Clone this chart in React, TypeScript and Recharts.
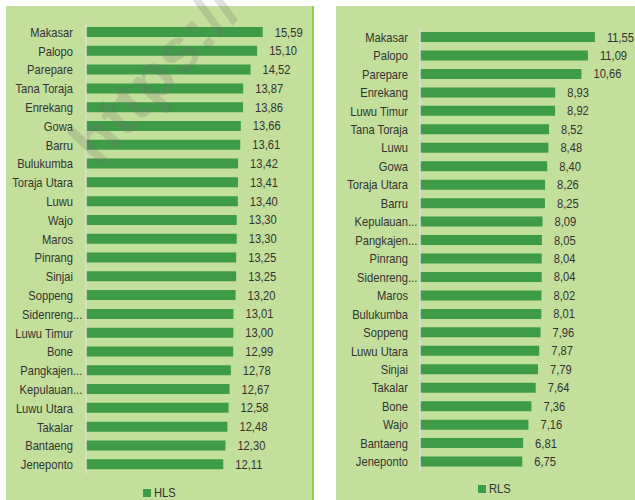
import React from 'react';
import { BarChart, Bar, XAxis, YAxis, LabelList } from 'recharts';

const hlsNames = [
  'Makasar', 'Palopo', 'Parepare', 'Tana Toraja', 'Enrekang', 'Gowa', 'Barru', 'Bulukumba',
  'Toraja Utara', 'Luwu', 'Wajo', 'Maros', 'Pinrang', 'Sinjai', 'Soppeng', 'Sidenreng...',
  'Luwu Timur', 'Bone', 'Pangkajen...', 'Kepulauan...', 'Luwu Utara', 'Takalar', 'Bantaeng', 'Jeneponto',
];
const hlsValues = [
  15.59, 15.1, 14.52, 13.87, 13.86, 13.66, 13.61, 13.42, 13.41, 13.4, 13.3, 13.3, 13.25, 13.25,
  13.2, 13.01, 13.0, 12.99, 12.78, 12.67, 12.58, 12.48, 12.3, 12.11,
];

const rlsNames = [
  'Makasar', 'Palopo', 'Parepare', 'Enrekang', 'Luwu Timur', 'Tana Toraja', 'Luwu', 'Gowa',
  'Toraja Utara', 'Barru', 'Kepulauan...', 'Pangkajen...', 'Pinrang', 'Sidenreng...', 'Maros',
  'Bulukumba', 'Soppeng', 'Luwu Utara', 'Sinjai', 'Takalar', 'Bone', 'Wajo', 'Bantaeng', 'Jeneponto',
];
const rlsValues = [
  11.55, 11.09, 10.66, 8.93, 8.92, 8.52, 8.48, 8.4, 8.26, 8.25, 8.09, 8.05, 8.04, 8.04, 8.02,
  8.01, 7.96, 7.87, 7.79, 7.64, 7.36, 7.16, 6.81, 6.75,
];

// no Arial Narrow here, so Liberation Sans squeezed sideways
const FONT = "'Liberation Sans', Arial, sans-serif";
const SQUEEZE = 0.86;
const BG = '#c2df9b';
const BAR = '#3e9b48';
const TEXT = '#333333';

const fmt = (v: any) => Number(v).toFixed(2).replace('.', ',');

const NarrowText = ({ x, y, anchor, children }: any) => (
  <text
    transform={`translate(${x},${y}) scale(${SQUEEZE},1)`}
    x={0}
    y={0}
    textAnchor={anchor}
    fill={TEXT}
    fontSize={13}
    fontFamily={FONT}
  >
    {children}
  </text>
);

// Excel-style truncated labels: the name is right aligned, the dots hang past it
const CatTick = (props: any) => {
  const { x, y, payload } = props;
  const label: string = payload.value;
  const cut = label.endsWith('...');
  const base = cut ? label.slice(0, -3) : label;
  return (
    <g>
      <NarrowText x={x} y={y + 4.5} anchor="end">{base}</NarrowText>
      {cut && <NarrowText x={x} y={y + 4.5} anchor="start">...</NarrowText>}
    </g>
  );
};

const ValueLabel = (props: any) => {
  const { x, y, width, height, value } = props;
  return (
    <NarrowText x={x + width + 12} y={y + height / 2 + 4.5} anchor="start">
      {fmt(value)}
    </NarrowText>
  );
};

type PanelProps = {
  names: string[];
  values: number[];
  label: string;
  left: number;
  width: number;
  max: number;
  margin: { top: number; right: number; bottom: number; left: number };
  axisWidth: number;
  tickGap: number;
  legendX: number;
  legendY: number;
  border?: boolean;
};

const Panel = (p: PanelProps) => {
  const data = p.names.map((n, i) => ({ name: n, value: p.values[i] }));
  return (
    <div
      style={{
        position: 'absolute',
        left: p.left,
        top: 6,
        width: p.width,
        height: 494,
        background: BG,
        borderRight: p.border ? '2px solid #8ccf4c' : undefined,
        boxSizing: 'border-box',
      }}
    >
      <BarChart width={p.width} height={494} data={data} layout="vertical" margin={p.margin} style={{ overflow: 'visible' }}>
        <XAxis type="number" domain={[0, p.max]} hide />
        <YAxis
          type="category"
          dataKey="name"
          width={p.axisWidth}
          tickLine={false}
          tickSize={0}
          tickMargin={p.tickGap}
          axisLine={{ stroke: '#dcdcdc', strokeWidth: 1.5 }}
          tick={<CatTick />}
          interval={0}
        />
        <Bar dataKey="value" fill={BAR} barSize={10} isAnimationActive={false}>
          <LabelList dataKey="value" content={<ValueLabel />} />
        </Bar>
      </BarChart>
      <div
        style={{
          position: 'absolute',
          left: p.legendX,
          top: p.legendY,
          display: 'flex',
          alignItems: 'center',
          fontFamily: FONT,
          fontSize: 13,
          color: TEXT,
        }}
      >
        <span style={{ display: 'inline-block', width: 8, height: 8, background: BAR, marginRight: 3 }} />
        <span style={{ display: 'inline-block', transform: `scaleX(${SQUEEZE})`, transformOrigin: 'left center' }}>
          {p.label}
        </span>
      </div>
    </div>
  );
};

const App = () => {
  return (
    <div style={{ position: 'absolute', left: 0, top: 0, width: 635, height: 500, background: '#ffffff', overflow: 'hidden' }}>
      <Panel
        names={hlsNames}
        values={hlsValues}
        label="HLS"
        left={6}
        width={308}
        max={18}
        margin={{ top: 17, right: 24, bottom: 26, left: 0 }}
        axisWidth={80}
        tickGap={13}
        legendX={137}
        legendY={479}
        border
      />
      <Panel
        names={rlsNames}
        values={rlsValues}
        label="RLS"
        left={336}
        width={299}
        max={14}
        margin={{ top: 22, right: 3, bottom: 29, left: 0 }}
        axisWidth={84}
        tickGap={12}
        legendX={142}
        legendY={475}
      />
      {/* faint watermark across the top of the left panel */}
      <svg width={635} height={500} style={{ position: 'absolute', left: 0, top: 0, pointerEvents: 'none' }}>
        <text
          x={98}
          y={168}
          transform="rotate(-47 98 168)"
          fontSize={64}
          fontWeight="bold"
          fontFamily={FONT}
          fill="#707070"
          opacity={0.22}
        >
          https://
        </text>
      </svg>
    </div>
  );
};

export default App;
